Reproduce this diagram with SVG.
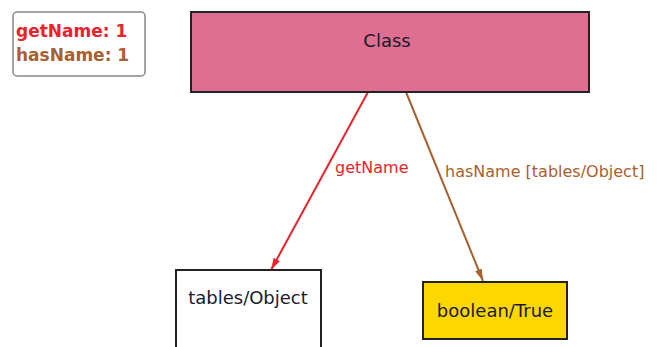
<svg xmlns="http://www.w3.org/2000/svg" width="657" height="347" viewBox="0 0 657 347">
<style>
.node{stroke:#222;stroke-width:2}
.t{font-family:"DejaVu Sans","Liberation Sans",sans-serif;font-size:18px;fill:#1a1a2e;text-anchor:middle}
.lbl{font-family:"DejaVu Sans","Liberation Sans",sans-serif;font-size:16px}
.leg{font-family:"DejaVu Sans","Liberation Sans",sans-serif;font-size:17px;font-weight:bold}
</style>
<defs>
<marker id="ar" viewBox="0 0 12 7" refX="12" refY="3.5" markerWidth="12" markerHeight="7" markerUnits="userSpaceOnUse" orient="auto">
<path d="M0,0 L12,3.5 L0,7 Z" fill="#e8232b"/>
</marker>
<marker id="ab" viewBox="0 0 12 7" refX="12" refY="3.5" markerWidth="12" markerHeight="7" markerUnits="userSpaceOnUse" orient="auto">
<path d="M0,0 L12,3.5 L0,7 Z" fill="#a8602f"/>
</marker>
</defs>
<rect width="657" height="347" fill="#fff"/>
<g id="legend">
<rect x="13" y="12" width="132" height="64" rx="4" fill="#fff" stroke="#888" stroke-width="1.5"/>
<text class="leg" x="16" y="37" fill="#e8232b">getName: 1</text>
<text class="leg" x="16" y="61" fill="#a8602f">hasName: 1</text>
</g>
<g id="connectors">
<line x1="368" y1="92" x2="271" y2="270" stroke="#e8232b" stroke-width="2" marker-end="url(#ar)"/>
<line x1="406" y1="92" x2="483" y2="281" stroke="#a8602f" stroke-width="2" marker-end="url(#ab)"/>
<text class="lbl" x="335" y="173" fill="#e8232b">getName</text>
<text class="lbl" x="445" y="177" fill="#a8602f">hasName [tables/Object]</text>
</g>
<g id="class">
<rect class="node" x="191" y="12" width="398" height="80" fill="#de6f90"/>
<text class="t" x="387" y="47">Class</text>
</g>
<g id="tables-object">
<rect class="node" x="176" y="270" width="145" height="90" fill="#fff"/>
<text class="t" x="248" y="304">tables/Object</text>
</g>
<g id="boolean-true">
<rect class="node" x="423" y="282" width="144" height="57" fill="#ffd700"/>
<text class="t" x="495" y="317">boolean/True</text>
</g>
</svg>
